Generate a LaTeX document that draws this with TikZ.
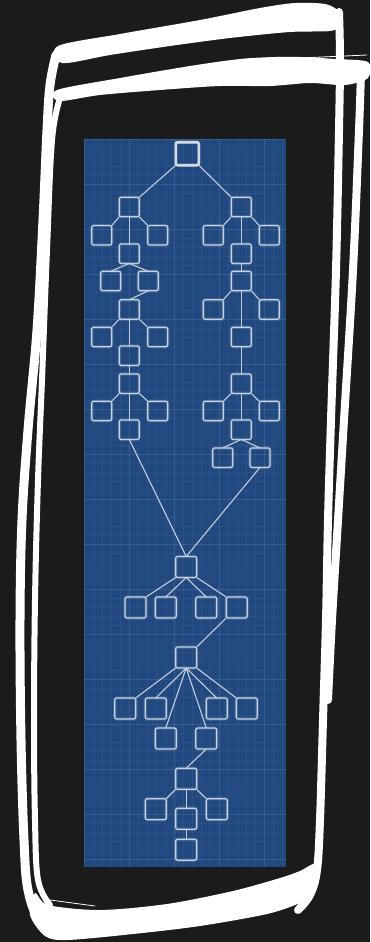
\documentclass[tikz,border=0pt]{standalone}
\definecolor{bgcol}{HTML}{1B1B1B}
\definecolor{panel}{HTML}{22497F}
\definecolor{nodecol}{HTML}{C6D1E2}
\definecolor{rootcol}{HTML}{D3DAE5}
\definecolor{linecol}{HTML}{C2CEDF}
\definecolor{gridcol}{HTML}{6F93C4}
\begin{document}
\begin{tikzpicture}[x=1pt,y=-1pt,
  box/.style={rectangle, rounded corners=2pt, minimum width=20pt, minimum height=19.5pt, inner sep=0pt, outer sep=0pt, draw=nodecol, line width=1.2pt, preaction={draw=nodecol, line width=3.2pt, draw opacity=0.18}},
  bbox/.style={box, minimum width=21pt, minimum height=21pt},
  rootbox/.style={box, minimum width=23pt, minimum height=23pt, line width=2.6pt, draw=rootcol},
  link/.style={draw=linecol, line width=1.1pt},
  chalk/.style={draw=white, line width=#1, line cap=round, line join=round},
  chalkfill/.style={fill=white}
]
\useasboundingbox (0,0) rectangle (370,942);
\fill[bgcol] (0,0) rectangle (370,942);

% ---------- chalk frame ----------
\fill[chalkfill] plot[smooth cycle, tension=0.5] coordinates {(58,46) (120,34) (200,20) (260,8) (295,3) (325,4) (338,11) (341,25) (330,31) (290,32) (230,38) (170,46) (110,55) (62,63)};
\fill[chalkfill] plot[smooth cycle, tension=0.5] coordinates {(57,90) (120,78) (190,66) (240,59) (275,57) (300,57) (335,59) (368,62) (368,78) (345,85) (310,83) (270,86) (220,86) (160,90) (100,95) (59,101)};
\draw[chalk=9pt] plot[smooth, tension=0.6] coordinates {(56,55) (50,85) (47,130) (43,220) (37,330) (28,430) (22,520) (20,620) (21,740) (24,840) (28,890) (40,920) (65,935)};
\draw[chalk=6pt] plot[smooth, tension=0.6] coordinates {(60,98) (52,140) (47,250) (42,380) (38,480) (35,600) (34,720) (35,820) (38,880) (50,905)};
\draw[chalk=8pt] plot[smooth, tension=0.6] coordinates {(339,12) (340,60) (339,130) (336,270) (331,420) (328,520) (326,620) (323,720) (320,820) (317,870) (310,895) (298,910)};
\draw[chalk=8pt] plot[smooth, tension=0.6] coordinates {(361,72) (359,130) (353,270) (344,420) (338,520) (332,620) (328,700)};
\fill[chalkfill] plot[smooth cycle, tension=0.5] coordinates {(35,893) (48,905) (100,910) (167,904) (233,891) (280,878) (300,871) (315,864) (319,880) (313,894) (300,903) (267,914) (200,926) (133,934) (67,940) (45,936) (30,915)};
\draw[chalk=0.8pt] (217,912) -- (307,873);
\draw[chalk=0.8pt] (50,900) -- (95,906);
\draw[chalk=0.8pt] (300,58) -- (367,55);

% ---------- blueprint panel ----------
\fill[panel] (84,139) rectangle (286,867);
\begin{scope}
\clip (84,139) rectangle (286,867);
\foreach \x in {84,93,...,290} \draw[gridcol, line width=0.3pt, opacity=0.1] (\x,139) -- (\x,867);
\foreach \y in {139,148,...,870} \draw[gridcol, line width=0.3pt, opacity=0.1] (84,\y) -- (286,\y);
\foreach \x in {84,129,...,290} \draw[gridcol, line width=0.4pt, opacity=0.18] (\x,139) -- (\x,867);
\foreach \y in {139,184,...,870} \draw[gridcol, line width=0.4pt, opacity=0.18] (84,\y) -- (286,\y);
\end{scope}

% ---------- nodes: upper part ----------
\node[rootbox] (root) at (187.3,153.7) {};
\node[box] (L1) at (129.3,207) {};
\node[box] (R1) at (241.3,207) {};
\node[box] (LL) at (101.7,235.3) {};
\node[box] (LR) at (157.7,235.3) {};
\node[box] (LM) at (129.3,253.7) {};
\node[box] (RL) at (213.3,235.3) {};
\node[box] (RR) at (269.3,235.3) {};
\node[box] (RM) at (241.3,253.7) {};
\node[box] (LML) at (110.7,281) {};
\node[box] (LMR) at (148.3,281) {};
\node[box] (R2) at (241.3,281) {};
\node[box] (L3) at (129.3,309.5) {};
\node[box] (R2L) at (213.3,309.5) {};
\node[box] (R2R) at (269.3,309.5) {};
\node[box] (L3L) at (101.7,337) {};
\node[box] (L3R) at (157.7,337) {};
\node[box] (L3M) at (129.3,355.7) {};
\node[box] (R2M) at (241.3,337) {};
\node[box] (L4) at (129.3,383.7) {};
\node[box] (R3) at (241.3,383.7) {};
\node[box] (L4L) at (101.7,411) {};
\node[box] (L4R) at (157.7,411) {};
\node[box] (L4M) at (129.3,429.7) {};
\node[box] (R3L) at (213.3,411) {};
\node[box] (R3R) at (269.3,411) {};
\node[box] (R3M) at (241.3,429.7) {};
\node[box] (R3ML) at (222.7,457.7) {};
\node[box] (R3MR) at (260,457.7) {};

% ---------- nodes: lower part ----------
\node[bbox] (H) at (186.2,567) {};
\node[bbox] (H1) at (135.5,607.5) {};
\node[bbox] (H2) at (165.8,607.5) {};
\node[bbox] (H3) at (206.3,607.5) {};
\node[bbox] (H4) at (236.7,607.5) {};
\node[bbox] (J) at (186.2,657.5) {};
\node[bbox] (K1) at (125.2,708.5) {};
\node[bbox] (K2) at (155.8,708.5) {};
\node[bbox] (K3) at (216.8,708.5) {};
\node[bbox] (K4) at (246.8,708.5) {};
\node[bbox] (K5) at (165.8,738.5) {};
\node[bbox] (K6) at (206.3,738.5) {};
\node[bbox] (M) at (186.2,778.8) {};
\node[bbox] (N1) at (155.8,809.2) {};
\node[bbox] (N2) at (216.8,809.2) {};
\node[bbox] (N3) at (186.2,818.8) {};
\node[bbox] (N4) at (186.2,849.7) {};

% ---------- connectors ----------
\draw[link] (root.south west) -- (L1.north east);
\draw[link] (root.south east) -- (R1.north west);
\draw[link] (L1.south west) -- (LL.north east);
\draw[link] (L1.south east) -- (LR.north west);
\draw[link] (L1.south) -- (LM.north);
\draw[link] (R1.south west) -- (RL.north east);
\draw[link] (R1.south east) -- (RR.north west);
\draw[link] (R1.south) -- (RM.north);
\draw[link] (LM.south) -- (LML.north);
\draw[link] (LM.south) -- (LMR.north);
\draw[link] (LMR.south) -- (L3.north);
\draw[link] (RM.south) -- (R2.north);
\draw[link] (R2.south west) -- (R2L.north east);
\draw[link] (R2.south east) -- (R2R.north west);
\draw[link] (R2.south) -- (R2M.north);
\draw[link] (L3.south west) -- (L3L.north east);
\draw[link] (L3.south east) -- (L3R.north west);
\draw[link] (L3.south) -- (L3M.north);
\draw[link] (L3M.south) -- (L4.north);
\draw[link] (R2M.south) -- (R3.north);
\draw[link] (L4.south west) -- (L4L.north east);
\draw[link] (L4.south east) -- (L4R.north west);
\draw[link] (L4.south) -- (L4M.north);
\draw[link] (R3.south west) -- (R3L.north east);
\draw[link] (R3.south east) -- (R3R.north west);
\draw[link] (R3.south) -- (R3M.north);
\draw[link] (R3M.south) -- (R3ML.north);
\draw[link] (R3M.south) -- (R3MR.north);
\draw[link] (L4M.south) -- (H.north);
\draw[link] (R3MR.south) -- (H.north);
\draw[link] (H.south west) -- (H1.north east);
\draw[link] (H.south) -- (H2.north);
\draw[link] (H.south) -- (H3.north);
\draw[link] (H.south east) -- (H4.north west);
\draw[link] (H4.south west) -- (J.north east);
\draw[link] (J.south west) -- (K1.north east);
\draw[link] (J.south) -- (K2.north);
\draw[link] (J.south) -- (K5.north);
\draw[link] (J.south) -- (K6.north);
\draw[link] (J.south) -- (K3.north);
\draw[link] (J.south east) -- (K4.north west);
\draw[link] (K6.south) -- (M.north);
\draw[link] (M.south west) -- (N1.north east);
\draw[link] (M.south east) -- (N2.north west);
\draw[link] (M.south) -- (N3.north);
\draw[link] (N3.south) -- (N4.north);
\end{tikzpicture}
\end{document}
